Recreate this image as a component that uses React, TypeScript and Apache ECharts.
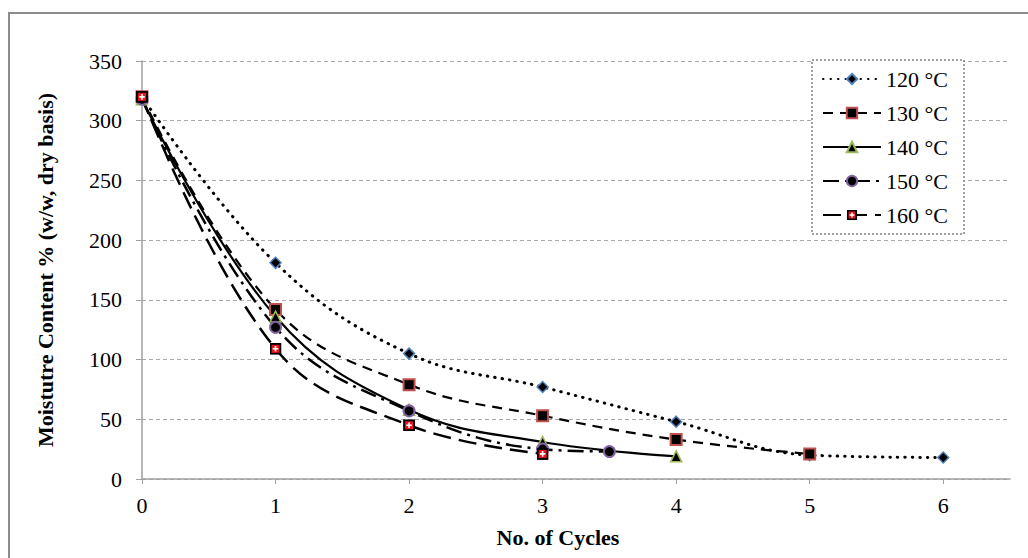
import React, { useEffect, useRef } from "react";
import * as echarts from "echarts";

const cycles120 = [0, 1, 2, 3, 4, 5, 6];
const mc120 = [320, 181, 105, 77, 48, 20, 18];
const cycles130 = [0, 1, 2, 3, 4, 5];
const mc130 = [320, 142, 79, 53, 33, 21];
const cycles140 = [0, 1, 2, 3, 4];
const mc140 = [318, 136, 58, 31, 19];
const cycles150 = [0, 1, 2, 3, 3.5];
const mc150 = [318, 127, 57, 25, 23];
const cycles160 = [0, 1, 2, 3];
const mc160 = [320, 109, 45, 21];

const seriesNames = ["120 °C", "130 °C", "140 °C", "150 °C", "160 °C"];
const yTitle = "Moistutre Content % (w/w, dry basis)";
const xTitle = "No. of Cycles";

const zip = (xs: number[], ys: number[]) => xs.map((x, i) => [x, ys[i]]);

const FONT = "'Liberation Serif', 'Times New Roman', serif";

const plusSvg =
  "<svg xmlns='http://www.w3.org/2000/svg' width='12' height='12'><rect x='1' y='1' width='10' height='10' fill='#e8141b' stroke='#000' stroke-width='2'/><path d='M6 3.2v5.6M3.2 6h5.6' stroke='#fff' stroke-width='1.6'/></svg>";
const plusSymbol = "image://data:image/svg+xml;utf8," + encodeURIComponent(plusSvg);

export default function App() {
  const ref = useRef<HTMLDivElement>(null);
  useEffect(() => {
    if (!ref.current) return;
    const chart = echarts.init(ref.current, null, { renderer: "svg" });
    const base = { type: "line", smooth: 0.4, showSymbol: true, z: 3 };
    chart.setOption({
      animation: false,
      backgroundColor: "#fff",
      grid: { left: 142, top: 61, right: 18, bottom: 79, containLabel: false },
      xAxis: {
        type: "value",
        min: 0,
        max: 6.5,
        interval: 1,
        name: xTitle,
        nameLocation: "middle",
        nameGap: 47,
        nameTextStyle: { fontFamily: FONT, fontWeight: "bold", fontSize: 22, color: "#000", padding: [0, 36, 0, 0] },
        axisLine: { show: true, lineStyle: { color: "#a0a0a0", width: 1.5 } },
        axisTick: { show: true, length: 5, inside: false, lineStyle: { color: "#a0a0a0" } },
        axisLabel: { fontFamily: FONT, fontSize: 22, color: "#000", margin: 15, showMaxLabel: false,
          formatter: (v: number) => (Number.isInteger(v) ? String(v) : "") },
        splitLine: { show: false },
      },
      yAxis: {
        type: "value",
        min: 0,
        max: 350,
        interval: 50,
        name: yTitle,
        nameLocation: "middle",
        nameGap: 86,
        nameTextStyle: { fontFamily: FONT, fontWeight: "bold", fontSize: 22, color: "#000" },
        axisLine: { show: true, lineStyle: { color: "#a0a0a0", width: 1.5 } },
        axisTick: { show: true, length: 6, lineStyle: { color: "#a0a0a0" } },
        axisLabel: { fontFamily: FONT, fontSize: 22, color: "#000", margin: 20 },
        splitLine: { show: true, lineStyle: { color: "#aaaaaa", type: [4, 3], width: 1 } },
      },
      legend: {
        orient: "vertical",
        left: 817,
        top: 63,
        itemWidth: 58,
        itemHeight: 13,
        itemGap: 12,
        z: 10,
        data: seriesNames,
        textStyle: { fontFamily: FONT, fontSize: 22, color: "#000" },
      },
      graphic: [
        { type: "rect", shape: { x: 9, y: 13, width: 1040, height: 560 }, style: { fill: "none", stroke: "#8c8c8c", lineWidth: 2 }, z: -1, silent: true },
        { type: "rect", shape: { x: 812, y: 60, width: 152, height: 174 }, style: { fill: "#fff", stroke: "#444", lineWidth: 1, lineDash: [2, 2] }, z: 1, silent: true },
      ],
      series: [
        { ...base, name: seriesNames[0], data: zip(cycles120, mc120), symbol: "diamond", symbolSize: 11,
          itemStyle: { color: "#000", borderColor: "#4f81bd", borderWidth: 1.5 },
          lineStyle: { color: "#000", width: 3, type: [0.5, 7], cap: "round" } },
        { ...base, name: seriesNames[1], data: zip(cycles130, mc130), symbol: "rect", symbolSize: 11,
          itemStyle: { color: "#000", borderColor: "#c0504d", borderWidth: 2 },
          lineStyle: { color: "#000", width: 2.2, type: [10, 7] } },
        { ...base, name: seriesNames[2], data: zip(cycles140, mc140), symbol: "triangle", symbolSize: 11,
          itemStyle: { color: "#000", borderColor: "#9bbb59", borderWidth: 1.5 },
          lineStyle: { color: "#000", width: 2.2, type: "solid" } },
        { ...base, name: seriesNames[3], data: zip(cycles150, mc150), symbol: "circle", symbolSize: 11,
          itemStyle: { color: "#000", borderColor: "#8064a2", borderWidth: 2 },
          lineStyle: { color: "#000", width: 2.5, type: [16, 6, 3, 6] } },
        { ...base, name: seriesNames[4], data: zip(cycles160, mc160), symbol: plusSymbol, symbolSize: 12,
          itemStyle: { color: "#e8141b", borderColor: "#000" },
          lineStyle: { color: "#000", width: 2.5, type: [18, 8] } },
      ],
    });
    return () => chart.dispose();
  }, []);
  return <div ref={ref} style={{ position: "fixed", left: 0, top: 0, width: 1028, height: 558 }} />;
}
